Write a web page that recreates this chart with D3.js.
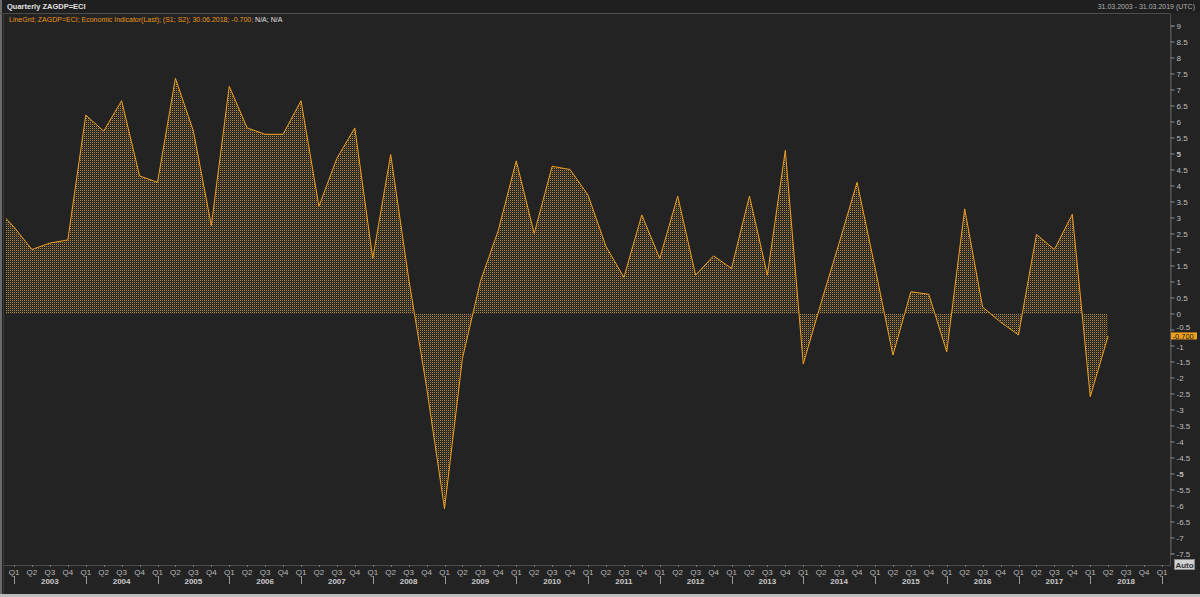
<!DOCTYPE html>
<html><head><meta charset="utf-8">
<script src="https://cdn.jsdelivr.net/npm/d3@7"></script>
<style>
html,body{margin:0;padding:0;background:#232323;}
svg{display:block;}
text{font-family:"Liberation Sans",Arial,sans-serif;}
</style></head>
<body>
<svg id="chart" width="1200" height="597"></svg>
<script>
// ---- data ----
const startYear = 2002, startQuarter = 4; // first value is Q4 2002 (clipped at left edge)
const values = [
  3.3,
  2.7, 2.0, 2.2, 2.3,
  6.2, 5.7, 6.65, 4.3,
  4.1, 7.35, 5.7, 2.75,
  7.1, 5.8, 5.6, 5.6,
  6.65, 3.35, 4.85, 5.8,
  1.72, 4.97, 1.1, -2.3,
  -6.1, -1.4, 1.0, 2.6,
  4.77, 2.5, 4.6, 4.5,
  3.7, 2.1, 1.13, 3.08,
  1.72, 3.67, 1.2, 1.8,
  1.41, 3.67, 1.2, 5.1,
  -1.58, 0.35, 2.2, 4.1,
  1.44, -1.3, 0.68, 0.6,
  -1.2, 3.27, 0.2, -0.27,
  -0.67, 2.47, 2.0, 3.1,
  -2.6, -0.7
];
const axisYears = [2003,2004,2005,2006,2007,2008,2009,2010,2011,2012,2013,2014,2015,2016,2017,2018];
const quarterNames = ["Q1","Q2","Q3","Q4"];
const yTicks = d3.range(-7.5, 9.0001, 0.5);
const titleText = "Quarterly ZAGDP=ECI";
const legendText = "LineGrd; ZAGDP=ECI; Economic Indicator(Last); (S1; S2); 30.06.2018; -0.700;";
const legendTail = " N/A; N/A";
const rangeText = "31.03.2003 - 31.03.2019 (UTC)";
const lastLabel = "-0.700";

// ---- scales ----
const svg = d3.select("#chart");
const plotL = 3, plotR = 1170, plotT = 13, plotB = 565;
// quarter index 0 = Q1 2003
const x = d3.scaleLinear().domain([0, 64]).range([14, 1162]);
const y = d3.scaleLinear().domain([-7.5, 9]).range([553.5, 25.5]);
const firstIdx = (startYear - 2003) * 4 + (startQuarter - 1);
const data = values.map((v, i) => ({i: firstIdx + i, v}));

// background & frame
svg.append("rect").attr("width",1200).attr("height",597).attr("fill","#232323");
svg.append("rect").attr("x",0).attr("y",0).attr("width",1200).attr("height",13).attr("fill","#1f1f1f");
svg.append("rect").attr("x",0).attr("y",0).attr("width",2).attr("height",597).attr("fill","#6a6a6a");
svg.append("rect").attr("x",0).attr("y",594).attr("width",1200).attr("height",3).attr("fill","#bdbdbd");

const defs = svg.append("defs");
defs.append("clipPath").attr("id","plotclip").append("rect")
  .attr("x",plotL+3).attr("y",plotT).attr("width",plotR-plotL-3).attr("height",plotB-plotT);
const pat = defs.append("pattern").attr("id","grd").attr("patternUnits","userSpaceOnUse")
  .attr("width",2).attr("height",2);
pat.append("rect").attr("x",0).attr("y",0).attr("width",1).attr("height",1).attr("fill","#b08a40");
pat.append("rect").attr("x",1).attr("y",1).attr("width",1).attr("height",1).attr("fill","#b08a40").attr("fill-opacity",0.2);

// frame lines
svg.append("path").attr("d",`M0,${plotT+0.5}H${plotR+0.5}V${plotB+0.5}H${plotL}`)
  .attr("fill","none").attr("stroke","#4c4c4c").attr("stroke-width",1);
svg.append("line").attr("x1",plotL+0.5).attr("x2",plotL+0.5).attr("y1",plotT).attr("y2",594)
  .attr("stroke","#3a3a3a");

// plot
const g = svg.append("g").attr("clip-path","url(#plotclip)");
const area = d3.area().x(d => x(d.i)).y0(y(0)).y1(d => y(d.v));
const line = d3.line().x(d => x(d.i)).y(d => y(d.v));
g.append("path").datum(data).attr("d",area).attr("fill","url(#grd)").attr("shape-rendering","crispEdges");
g.append("path").datum(data).attr("d",line).attr("fill","none").attr("stroke","#f0a020").attr("stroke-width",1);

// right axis
const yAxis = d3.axisRight(y).tickValues(yTicks).tickSize(4).tickPadding(2)
  .tickFormat(d => String(+d.toFixed(1)));
const ya = svg.append("g").attr("transform",`translate(${plotR+0.5},0)`).call(yAxis);
ya.select(".domain").attr("stroke","#5a5a5a");
ya.selectAll(".tick line").attr("stroke","#8a8a8a");
ya.selectAll(".tick text").attr("fill","#bfbfbf").attr("font-size",8)
  .attr("font-weight", d => Math.abs(d) === 5 ? "bold" : "normal")
  .attr("dy", d => d === -0.5 ? "-0.05em" : (d === -1 ? "0.5em" : "0.32em"));

// last value label
const ly = y(values[values.length-1]);
svg.append("rect").attr("x",1171).attr("y",ly-3.5).attr("width",26).attr("height",7).attr("fill","#f0a020");
svg.append("text").attr("x",1172.5).attr("y",ly+3).attr("font-size",7.5).attr("fill","#1a1a1a").text(lastLabel);

// Auto box
svg.append("rect").attr("x",1174.5).attr("y",559.5).attr("width",20).attr("height",10)
  .attr("fill","#d0d0d0").attr("stroke","#888");
svg.append("text").attr("x",1184.5).attr("y",567.5).attr("text-anchor","middle").attr("font-size",8)
  .attr("font-weight","bold").attr("fill","#333").text("Auto");

// bottom axis
const qIdx = d3.range(0, 65);
const xa = svg.append("g");
xa.selectAll("line.q").data(qIdx).join("line").attr("class","q")
  .attr("x1",d=>Math.round(x(d))+0.5).attr("x2",d=>Math.round(x(d))+0.5)
  .attr("y1",plotB).attr("y2",plotB+2).attr("stroke","#777");
xa.selectAll("text.q").data(qIdx).join("text").attr("class","q")
  .attr("x",d=>x(d)).attr("y",575).attr("text-anchor","middle")
  .attr("font-size",8).attr("fill","#b8b8b8").text(d => quarterNames[d % 4]);
xa.selectAll("line.yr").data(d3.range(0, 65, 4)).join("line").attr("class","yr")
  .attr("x1",d=>Math.round(x(d))+0.5).attr("x2",d=>Math.round(x(d))+0.5)
  .attr("y1",576).attr("y2",584).attr("stroke","#9a9a9a");
xa.selectAll("text.yr").data(axisYears).join("text").attr("class","yr")
  .attr("x",d=>x((d-2003)*4+2)).attr("y",583.5).attr("text-anchor","middle")
  .attr("font-size",8).attr("font-weight","bold").attr("fill","#c8c8c8").text(d=>d);

// header
svg.append("text").attr("x",7).attr("y",9).attr("font-size",7.5).attr("font-weight","bold")
  .attr("fill","#e0e0e0").text(titleText);
svg.append("text").attr("x",1195).attr("y",9).attr("text-anchor","end").attr("font-size",7)
  .attr("fill","#b0b0b0").text(rangeText);
const lg = svg.append("text").attr("x",9).attr("y",21.5).attr("font-size",7);
lg.append("tspan").attr("fill","#e8961e").text(legendText);
lg.append("tspan").attr("fill","#e0e0e0").text(legendTail);
</script>
</body></html>
